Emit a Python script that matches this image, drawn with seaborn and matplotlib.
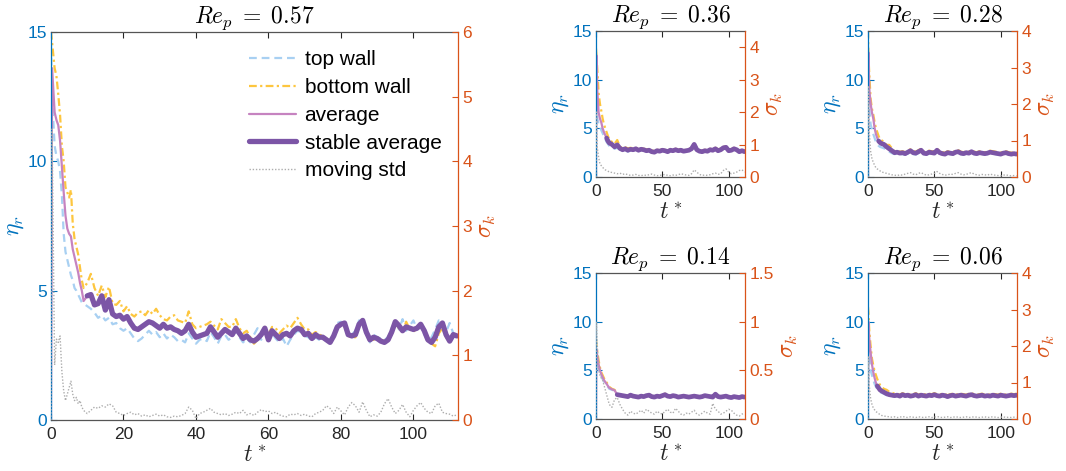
import numpy as np
import matplotlib
matplotlib.use("Agg")
import matplotlib.pyplot as plt
from matplotlib.ticker import FuncFormatter
import seaborn as sns

sns.set_theme(style="white")
plt.rcParams['font.family'] = ['Liberation Sans', 'DejaVu Sans']
plt.rcParams['mathtext.fontset'] = 'cm'

# ---------------------------------------------------------------- sampling times
T_MAIN = np.r_[0.0, 0.3, np.arange(1.0, 10.0, 0.5), np.arange(10.0, 113.0, 1.0)]
T_SMALL = np.r_[0.0, 0.3, np.arange(1.0, 10.0, 1.0), np.arange(10.0, 113.0, 2.0)]

# ---------------------------------------------------------------- Re_p = 0.57
TOP_057 = [
    14.5, 12.5, 10.6, 10.2, 10.0, 9.6, 8.7, 7.2, 6.5, 6.2,
    5.9, 5.6, 5.4, 5.1, 5.0, 4.85, 4.7, 4.55, 4.5, 4.45,
    4.4, 4.3, 4.15, 3.95, 4.05, 3.85, 3.95, 3.7, 3.75, 3.55,
    3.45, 3.55, 3.35, 3.15, 3.05, 3.15, 3.3, 3.45, 3.3, 3.4,
    3.2, 3.35, 3.15, 3.3, 3.2, 3.05, 3.1, 3.0, 3.35, 3.15,
    2.95, 3.1, 3.15, 3.05, 3.4, 3.2, 2.95, 3.25, 3.3, 3.1,
    3.2, 3.45, 3.2, 3.0, 3.15, 3.0, 3.3, 3.55, 3.1, 3.45,
    3.05, 3.35, 3.15, 3.0, 3.15, 2.85, 3.1, 3.3, 3.45, 3.4,
    3.25, 3.2, 3.05, 3.2, 3.1, 3.15, 3.05, 3.1, 3.35, 3.75,
    3.8, 3.65, 3.2, 3.3, 3.45, 3.85, 3.75, 3.3, 3.0, 3.3,
    3.2, 3.15, 3.1, 3.2, 3.55, 3.85, 3.5, 3.9, 3.45, 3.65,
    3.85, 3.5, 3.6, 3.3, 3.05, 3.2, 3.5, 3.85, 3.8, 3.4,
    3.75, 3.35, 3.3,
]
BOT_057 = [
    15.0, 14.6, 13.6, 13.3, 12.6, 11.8, 10.6, 10.0, 9.0, 8.8,
    8.6, 8.9, 7.6, 7.0, 6.7, 6.4, 5.9, 5.4, 5.1, 5.2,
    5.3, 5.65, 5.1, 4.8, 5.2, 4.75, 5.15, 4.5, 4.45, 4.6,
    4.2, 4.4, 4.1, 4.0, 4.15, 4.2, 4.05, 4.25, 4.1, 4.3,
    4.05, 3.9, 3.85, 4.0, 4.05, 3.85, 3.8, 3.75, 4.2, 3.7,
    3.55, 3.6, 3.65, 3.7, 3.8, 3.65, 3.5, 3.9, 3.75, 3.6,
    3.6, 3.9, 3.55, 3.35, 3.45, 3.2, 2.95, 3.1, 3.35, 3.6,
    3.3, 3.6, 3.55, 3.35, 3.5, 3.65, 3.55, 3.75, 3.95, 3.7,
    3.5, 3.5, 3.3, 3.4, 3.3, 3.25, 3.15, 2.95, 3.2, 3.55,
    3.65, 3.6, 3.25, 3.2, 3.2, 3.6, 3.9, 3.35, 3.15, 3.1,
    3.2, 3.1, 3.05, 3.15, 3.3, 3.75, 3.55, 3.4, 3.8, 3.5,
    3.4, 3.6, 3.75, 3.4, 3.2, 2.95, 2.85, 3.35, 3.55, 3.2,
    3.0, 3.25, 3.3,
]
AVG_057 = [
    0.0, 13.6, 11.9, 11.6, 11.4, 10.8, 9.8, 8.8, 7.9, 7.4,
    7.2, 7.1, 6.6, 6.3, 6.0, 5.7, 5.3, 5.0, 4.6, 4.7,
    4.8, 4.85, 4.45, 4.5, 4.8, 4.25, 4.65, 4.1, 4.0, 4.05,
    3.9, 4.0, 3.75, 3.55, 3.5, 3.6, 3.7, 3.8, 3.75, 3.65,
    3.55, 3.7, 3.55, 3.6, 3.5, 3.45, 3.35, 3.45, 3.7, 3.4,
    3.2, 3.25, 3.3, 3.35, 3.6, 3.4, 3.2, 3.35, 3.5, 3.4,
    3.3, 3.55, 3.35, 3.15, 3.25, 3.1, 3.05, 3.15, 3.3, 3.55,
    3.1, 3.45, 3.3, 3.15, 3.3, 3.35, 3.25, 3.45, 3.55, 3.5,
    3.3, 3.35, 3.15, 3.3, 3.2, 3.2, 3.1, 3.0, 3.25, 3.6,
    3.7, 3.75, 3.3, 3.25, 3.3, 3.7, 3.85, 3.4, 3.1, 3.2,
    3.15, 3.05, 3.0, 3.1, 3.4, 3.8, 3.65, 3.45, 3.6, 3.55,
    3.5, 3.55, 3.7, 3.45, 3.1, 3.0, 3.2, 3.6, 3.75, 3.3,
    3.05, 3.3, 3.25,
]
STD_057 = [
    0.0, 4.5, 0.85, 1.25, 1.2, 1.3, 0.75, 0.45, 0.3, 0.4,
    0.5, 0.6, 0.4, 0.3, 0.35, 0.25, 0.3, 0.2, 0.15, 0.12,
    0.1, 0.15, 0.2, 0.18, 0.22, 0.2, 0.25, 0.22, 0.12, 0.1,
    0.07, 0.1, 0.12, 0.08, 0.1, 0.06, 0.08, 0.05, 0.07, 0.09,
    0.06, 0.08, 0.05, 0.04, 0.06, 0.05, 0.07, 0.1, 0.2, 0.15,
    0.02, 0.1, 0.12, 0.15, 0.18, 0.12, 0.1, 0.08, 0.1, 0.07,
    0.09, 0.12, 0.1, 0.15, 0.08, 0.1, 0.07, 0.12, 0.16, 0.13,
    0.14, 0.1, 0.12, 0.08, 0.06, 0.05, 0.09, 0.08, 0.1, 0.07,
    0.09, 0.06, 0.05, 0.1, 0.12, 0.15, 0.22, 0.18, 0.1, 0.2,
    0.14, 0.08, 0.2, 0.27, 0.22, 0.12, 0.28, 0.15, 0.05, 0.08,
    0.06, 0.12, 0.25, 0.33, 0.2, 0.1, 0.15, 0.24, 0.12, 0.05,
    0.15, 0.22, 0.27, 0.18, 0.12, 0.1, 0.22, 0.26, 0.12, 0.1,
    0.09, 0.06, 0.08,
]

# ---------------------------------------------------------------- Re_p = 0.36
TOP_036 = [
    12.8, 9.5, 6.0, 5.4, 5.2, 4.8, 4.5, 4.2, 3.9, 3.6, 3.4,
    3.2, 3.1, 2.9, 3.0, 2.8, 2.65, 2.8, 2.6, 2.75, 2.7,
    2.85, 2.65, 2.8, 2.7, 2.6, 2.7, 2.5, 2.5, 2.65, 2.6,
    2.7, 2.6, 2.55, 2.7, 2.65, 2.75, 2.6, 2.7, 2.6, 2.65,
    2.7, 2.85, 3.2, 2.75, 2.6, 2.55, 2.65, 2.6, 2.8, 2.7,
    2.85, 2.6, 2.75, 2.95, 3.0, 2.65, 2.7, 2.85, 2.75, 2.55,
    2.65, 2.55,
]
BOT_036 = [
    13.2, 12.6, 11.0, 8.6, 7.5, 6.8, 6.0, 5.4, 5.0, 4.6, 4.2,
    3.9, 3.6, 3.4, 3.8, 3.1, 3.0, 3.05, 2.95, 3.0, 2.95,
    3.0, 2.9, 2.95, 2.9, 2.85, 2.85, 2.75, 2.65, 2.8, 2.75,
    2.85, 2.8, 2.7, 2.85, 2.8, 2.9, 2.8, 2.85, 2.75, 2.8,
    2.85, 3.0, 3.5, 2.9, 2.7, 2.7, 2.8, 2.75, 2.9, 2.85,
    3.0, 2.85, 2.9, 3.1, 3.15, 2.8, 2.85, 3.0, 2.9, 2.7,
    2.8, 2.7,
]
AVG_036 = [
    0.0, 12.5, 8.8, 6.6, 6.0, 5.6, 5.0, 4.6, 4.3, 4.0, 3.7,
    3.5, 3.35, 3.1, 3.3, 2.95, 2.8, 2.9, 2.75, 2.85, 2.8,
    2.9, 2.75, 2.85, 2.8, 2.7, 2.75, 2.6, 2.55, 2.7, 2.65,
    2.75, 2.7, 2.6, 2.75, 2.7, 2.8, 2.7, 2.75, 2.65, 2.7,
    2.75, 2.9, 3.35, 2.8, 2.65, 2.6, 2.7, 2.65, 2.8, 2.75,
    2.9, 2.7, 2.8, 3.0, 3.05, 2.7, 2.75, 2.9, 2.8, 2.6,
    2.7, 2.6,
]
STD_036 = [
    0.0, 2.0, 0.9, 0.6, 0.4, 0.35, 0.3, 0.25, 0.22, 0.2, 0.18,
    0.15, 0.14, 0.12, 0.1, 0.12, 0.08, 0.1, 0.07, 0.05, 0.06,
    0.08, 0.05, 0.04, 0.06, 0.05, 0.07, 0.09, 0.06, 0.04, 0.05,
    0.06, 0.08, 0.05, 0.04, 0.06, 0.05, 0.07, 0.1, 0.08, 0.06,
    0.05, 0.1, 0.22, 0.15, 0.08, 0.05, 0.06, 0.05, 0.07, 0.1,
    0.12, 0.08, 0.1, 0.2, 0.25, 0.15, 0.1, 0.12, 0.15, 0.2,
    0.22, 0.15,
]

# ---------------------------------------------------------------- Re_p = 0.28
TOP_028 = [
    13.5, 11.5, 7.0, 5.4, 4.9, 4.4, 4.0, 3.6, 3.4, 3.2, 3.1,
    3.05, 2.95, 2.8, 2.6, 2.45, 2.35, 2.4, 2.3, 2.35, 2.3,
    2.4, 2.55, 2.35, 2.3, 2.45, 2.6, 2.35, 2.3, 2.4, 2.35,
    2.3, 2.6, 2.4, 2.3, 2.25, 2.4, 2.35, 2.3, 2.45, 2.5,
    2.35, 2.3, 2.4, 2.35, 2.5, 2.35, 2.3, 2.4, 2.35, 2.3,
    2.35, 2.45, 2.4, 2.35, 2.3, 2.25, 2.35, 2.4, 2.3, 2.25,
    2.3, 2.25,
]
BOT_028 = [
    15.0, 12.5, 10.5, 8.0, 7.0, 6.4, 5.6, 5.0, 4.6, 4.2, 3.9,
    3.8, 3.6, 3.3, 3.3, 2.95, 2.65, 2.7, 2.6, 2.65, 2.55,
    2.7, 2.85, 2.65, 2.6, 2.75, 2.9, 2.6, 2.55, 2.7, 2.65,
    2.6, 2.9, 2.65, 2.55, 2.5, 2.65, 2.6, 2.55, 2.7, 2.75,
    2.6, 2.55, 2.65, 2.6, 2.75, 2.6, 2.55, 2.65, 2.6, 2.55,
    2.6, 2.7, 2.65, 2.6, 2.55, 2.5, 2.6, 2.65, 2.55, 2.5,
    2.55, 2.5,
]
AVG_028 = [
    0.0, 12.8, 9.0, 7.5, 6.6, 6.0, 5.0, 4.4, 4.0, 3.7, 3.55,
    3.45, 3.35, 3.1, 2.9, 2.7, 2.5, 2.55, 2.45, 2.5, 2.4,
    2.55, 2.7, 2.5, 2.45, 2.6, 2.75, 2.45, 2.4, 2.55, 2.5,
    2.45, 2.75, 2.5, 2.4, 2.35, 2.5, 2.45, 2.4, 2.55, 2.6,
    2.45, 2.4, 2.5, 2.45, 2.6, 2.45, 2.4, 2.5, 2.45, 2.4,
    2.45, 2.55, 2.5, 2.45, 2.4, 2.35, 2.45, 2.5, 2.4, 2.35,
    2.4, 2.35,
]
STD_028 = [
    0.0, 2.5, 1.2, 0.7, 0.5, 0.4, 0.32, 0.25, 0.22, 0.2, 0.17,
    0.14, 0.12, 0.1, 0.08, 0.06, 0.05, 0.04, 0.06, 0.05, 0.08,
    0.1, 0.12, 0.08, 0.06, 0.1, 0.12, 0.08, 0.05, 0.06, 0.08,
    0.1, 0.15, 0.1, 0.07, 0.05, 0.06, 0.08, 0.07, 0.1, 0.12,
    0.08, 0.06, 0.07, 0.1, 0.12, 0.08, 0.06, 0.05, 0.07, 0.06,
    0.05, 0.08, 0.06, 0.05, 0.04, 0.03, 0.05, 0.06, 0.04, 0.03,
    0.04, 0.03,
]

# ---------------------------------------------------------------- Re_p = 0.14
TOP_014 = [
    7.0, 6.5, 5.9, 5.2, 4.7, 4.4, 4.1, 3.85, 3.65, 3.45, 3.3,
    3.1, 3.0, 2.9, 2.45, 2.4, 2.35, 2.3, 2.25, 2.4, 2.3,
    2.25, 2.2, 2.3, 2.25, 2.35, 2.4, 2.25, 2.2, 2.3, 2.25,
    2.35, 2.5, 2.3, 2.25, 2.35, 2.3, 2.2, 2.25, 2.3, 2.25,
    2.2, 2.25, 2.3, 2.25, 2.2, 2.25, 2.35, 2.3, 2.25, 2.2,
    2.6, 2.25, 2.2, 2.25, 2.3, 2.2, 2.15, 2.25, 2.2, 2.15,
    2.25, 2.2,
]
BOT_014 = [
    8.2, 7.6, 6.9, 6.0, 5.3, 4.8, 4.5, 4.2, 3.95, 3.75, 3.55,
    3.3, 3.1, 3.0, 2.55, 2.5, 2.45, 2.4, 2.35, 2.5, 2.4,
    2.35, 2.3, 2.4, 2.35, 2.45, 2.55, 2.35, 2.3, 2.4, 2.35,
    2.45, 2.6, 2.4, 2.35, 2.45, 2.4, 2.3, 2.35, 2.4, 2.35,
    2.3, 2.35, 2.4, 2.35, 2.3, 2.35, 2.45, 2.4, 2.35, 2.3,
    2.55, 2.35, 2.3, 2.35, 2.4, 2.3, 2.25, 2.35, 2.3, 2.25,
    2.35, 2.3,
]
AVG_014 = [
    0.0, 7.2, 6.4, 5.6, 5.0, 4.6, 4.3, 4.0, 3.8, 3.6, 3.4,
    3.2, 3.05, 2.95, 2.5, 2.45, 2.4, 2.35, 2.3, 2.45, 2.35,
    2.3, 2.25, 2.35, 2.3, 2.4, 2.45, 2.3, 2.25, 2.35, 2.3,
    2.4, 2.5, 2.35, 2.3, 2.4, 2.35, 2.25, 2.3, 2.35, 2.3,
    2.25, 2.3, 2.35, 2.3, 2.25, 2.3, 2.4, 2.35, 2.3, 2.25,
    2.55, 2.3, 2.25, 2.3, 2.35, 2.25, 2.2, 2.3, 2.25, 2.2,
    2.3, 2.25,
]
STD_014 = [
    0.0, 1.0, 0.75, 0.5, 0.45, 0.42, 0.4, 0.35, 0.3, 0.25, 0.2,
    0.15, 0.12, 0.2, 0.22, 0.15, 0.1, 0.06, 0.04, 0.08, 0.06,
    0.05, 0.07, 0.09, 0.06, 0.1, 0.08, 0.06, 0.05, 0.08, 0.06,
    0.05, 0.08, 0.1, 0.07, 0.06, 0.11, 0.08, 0.05, 0.04, 0.06,
    0.05, 0.07, 0.09, 0.05, 0.04, 0.06, 0.08, 0.06, 0.05, 0.16,
    0.1, 0.08, 0.05, 0.06, 0.08, 0.1, 0.09, 0.06, 0.04, 0.03,
    0.05, 0.06,
]

# ---------------------------------------------------------------- Re_p = 0.06
TOP_006 = [
    9.0, 8.0, 6.5, 5.0, 4.5, 4.0, 3.6, 3.3, 3.1, 2.95, 2.8,
    2.7, 2.6, 2.45, 2.4, 2.35, 2.3, 2.35, 2.25, 2.4, 2.3,
    2.35, 2.25, 2.3, 2.4, 2.25, 2.35, 2.3, 2.25, 2.35, 2.3,
    2.45, 2.3, 2.25, 2.35, 2.3, 2.2, 2.3, 2.35, 2.25, 2.3,
    2.35, 2.3, 2.25, 2.35, 2.4, 2.3, 2.25, 2.3, 2.35, 2.25,
    2.3, 2.25, 2.35, 2.3, 2.25, 2.35, 2.3, 2.25, 2.3, 2.35,
    2.3, 2.35,
]
BOT_006 = [
    11.5, 11.0, 9.0, 7.5, 6.2, 5.5, 4.9, 4.5, 4.1, 3.8, 3.5,
    3.35, 3.1, 3.0, 2.8, 2.7, 2.6, 2.6, 2.5, 2.65, 2.55,
    2.6, 2.5, 2.55, 2.65, 2.5, 2.6, 2.55, 2.5, 2.6, 2.55,
    2.65, 2.55, 2.5, 2.6, 2.55, 2.45, 2.55, 2.6, 2.5, 2.55,
    2.6, 2.55, 2.5, 2.6, 2.65, 2.55, 2.5, 2.55, 2.6, 2.5,
    2.55, 2.5, 2.6, 2.55, 2.5, 2.6, 2.55, 2.5, 2.55, 2.6,
    2.55, 2.6,
]
AVG_006 = [
    0.0, 10.0, 8.2, 6.8, 5.6, 4.8, 4.2, 3.7, 3.4, 3.2, 3.0,
    2.9, 2.75, 2.6, 2.5, 2.45, 2.4, 2.45, 2.35, 2.5, 2.4,
    2.45, 2.35, 2.4, 2.5, 2.35, 2.45, 2.4, 2.35, 2.45, 2.4,
    2.5, 2.4, 2.35, 2.45, 2.4, 2.3, 2.4, 2.45, 2.35, 2.4,
    2.45, 2.4, 2.35, 2.45, 2.5, 2.4, 2.35, 2.4, 2.45, 2.35,
    2.4, 2.35, 2.45, 2.4, 2.35, 2.45, 2.4, 2.35, 2.4, 2.45,
    2.4, 2.45,
]
STD_006 = [
    0.0, 1.7, 0.9, 0.55, 0.4, 0.3, 0.25, 0.2, 0.18, 0.15, 0.12,
    0.1, 0.08, 0.07, 0.06, 0.05, 0.06, 0.04, 0.05, 0.07, 0.05,
    0.04, 0.06, 0.05, 0.04, 0.06, 0.05, 0.04, 0.05, 0.06, 0.04,
    0.05, 0.07, 0.05, 0.04, 0.05, 0.06, 0.04, 0.05, 0.06, 0.05,
    0.04, 0.05, 0.06, 0.04, 0.05, 0.06, 0.05, 0.04, 0.05, 0.06,
    0.04, 0.05, 0.06, 0.05, 0.04, 0.05, 0.06, 0.04, 0.05, 0.04,
    0.05, 0.04,
]

RE_LABELS = ["0.57", "0.36", "0.28", "0.14", "0.06"]
STABLE_FROM = [10.0, 8.0, 8.0, 16.0, 7.0]       # start of the settled window
SIGMA_MAX = [6.0, 4.5, 4.0, 1.5, 4.0]
SIGMA_TICKS = [[0, 1, 2, 3, 4, 5, 6], [0, 1, 2, 3, 4], [0, 1, 2, 3, 4],
               [0, 0.5, 1, 1.5], [0, 1, 2, 3, 4]]

# ---------------------------------------------------------------- styling
C_TOP = "#a8d0f2"
C_BOT = "#fdc63f"
C_AVG = "#c683c0"
C_STB = "#7c55a6"
C_STD = "#adadad"
C_LEFT = "#0072BD"
C_RIGHT = "#D95319"
C_AX = "#262626"

W, H = 1066, 471
fig = plt.figure(figsize=(W / 100, H / 100), dpi=100)


def box(x0, x1, y0, y1):
    return [x0 / W, 1 - y1 / H, (x1 - x0) / W, (y1 - y0) / H]


boxes = [box(51, 458, 32, 420), box(596, 745, 31, 177), box(868, 1017, 31, 177),
         box(596, 745, 273, 419), box(868, 1017, 273, 419)]

series = [
    (T_MAIN, TOP_057, BOT_057, AVG_057, STD_057),
    (T_SMALL, TOP_036, BOT_036, AVG_036, STD_036),
    (T_SMALL, TOP_028, BOT_028, AVG_028, STD_028),
    (T_SMALL, TOP_014, BOT_014, AVG_014, STD_014),
    (T_SMALL, TOP_006, BOT_006, AVG_006, STD_006),
]

fmt = FuncFormatter(lambda v, _: f"{v:g}")
TICK_FS = 12.5
LABEL_FS = 17

for i, (bx, (t, top, bot, avg, std)) in enumerate(zip(boxes, series)):
    big = i == 0
    ax = fig.add_axes(bx)
    ax2 = ax.twinx()
    t = np.asarray(t)
    avg = np.asarray(avg)
    settled = t >= STABLE_FROM[i]
    early = t <= STABLE_FROM[i]

    common = dict(estimator=None, sort=False, legend=False)
    sns.lineplot(x=t, y=top, ax=ax, color=C_TOP, linewidth=1.6,
                 linestyle=(0, (3.5, 2.2)), label="top wall", **common)
    sns.lineplot(x=t, y=bot, ax=ax, color=C_BOT, linewidth=1.6,
                 linestyle=(0, (3.5, 1.5, 1.0, 1.5)), label="bottom wall", **common)
    sns.lineplot(x=t[early], y=avg[early], ax=ax, color=C_AVG, linewidth=1.6,
                 label="average", **common)
    sns.lineplot(x=t[settled], y=avg[settled], ax=ax, color=C_STB,
                 linewidth=3.8 if big else 3.4, label="stable average", **common)
    sns.lineplot(x=t, y=std, ax=ax2, color=C_STD, linewidth=1.0,
                 linestyle=(0, (1, 1.3)), label="moving std", **common)
    for a in (ax, ax2):
        if a.get_legend() is not None:
            a.get_legend().remove()

    ax.set_xlim(0, 112.3)
    ax.set_ylim(0, 15)
    ax2.set_ylim(0, SIGMA_MAX[i])
    ax.set_xticks([0, 20, 40, 60, 80, 100] if big else [0, 50, 100])
    ax.set_yticks([0, 5, 10, 15])
    ax2.set_yticks(SIGMA_TICKS[i])
    ax2.yaxis.set_major_formatter(fmt)

    ax.set_title(r"$Re_p\;=\;" + RE_LABELS[i] + "$", fontsize=LABEL_FS,
                 color="black", pad=3)
    ax.set_xlabel(r"$t^*$", fontsize=LABEL_FS, color=C_AX, labelpad=2)
    ax.set_ylabel(r"$\eta_r$", fontsize=LABEL_FS, color=C_LEFT, labelpad=1)
    ax2.set_ylabel(r"$\sigma_k$", fontsize=LABEL_FS, color=C_RIGHT, labelpad=3)

    ax.tick_params(axis="x", direction="in", length=4, width=0.8, colors=C_AX,
                   labelsize=TICK_FS, top=True, bottom=True, pad=5)
    ax.tick_params(axis="y", direction="in", length=4, width=0.8, colors=C_LEFT,
                   labelsize=TICK_FS, left=True, right=False, pad=3)
    ax2.tick_params(axis="y", direction="in", length=4, width=0.8, colors=C_RIGHT,
                    labelsize=TICK_FS, right=True, left=False, pad=3)

    for s in ("top", "bottom"):
        ax.spines[s].set_color("#555555")
        ax.spines[s].set_linewidth(0.9)
    ax.spines["left"].set_color(C_LEFT)
    ax.spines["left"].set_linewidth(0.9)
    ax.spines["right"].set_visible(False)
    for s in ("top", "bottom", "left"):
        ax2.spines[s].set_visible(False)
    ax2.spines["right"].set_color(C_RIGHT)
    ax2.spines["right"].set_linewidth(0.9)
    ax.grid(False)
    ax2.grid(False)

    if big:
        h1, l1 = ax.get_legend_handles_labels()
        h2, l2 = ax2.get_legend_handles_labels()
        leg = ax2.legend(h1 + h2, l1 + l2, loc="upper right", frameon=False,
                         fontsize=15, handlelength=2.25, handletextpad=0.4,
                         labelspacing=0.42, borderaxespad=0.3,
                         bbox_to_anchor=(0.995, 0.99))
        for txt in leg.get_texts():
            txt.set_color("black")

fig.savefig("out.png", dpi=100)
